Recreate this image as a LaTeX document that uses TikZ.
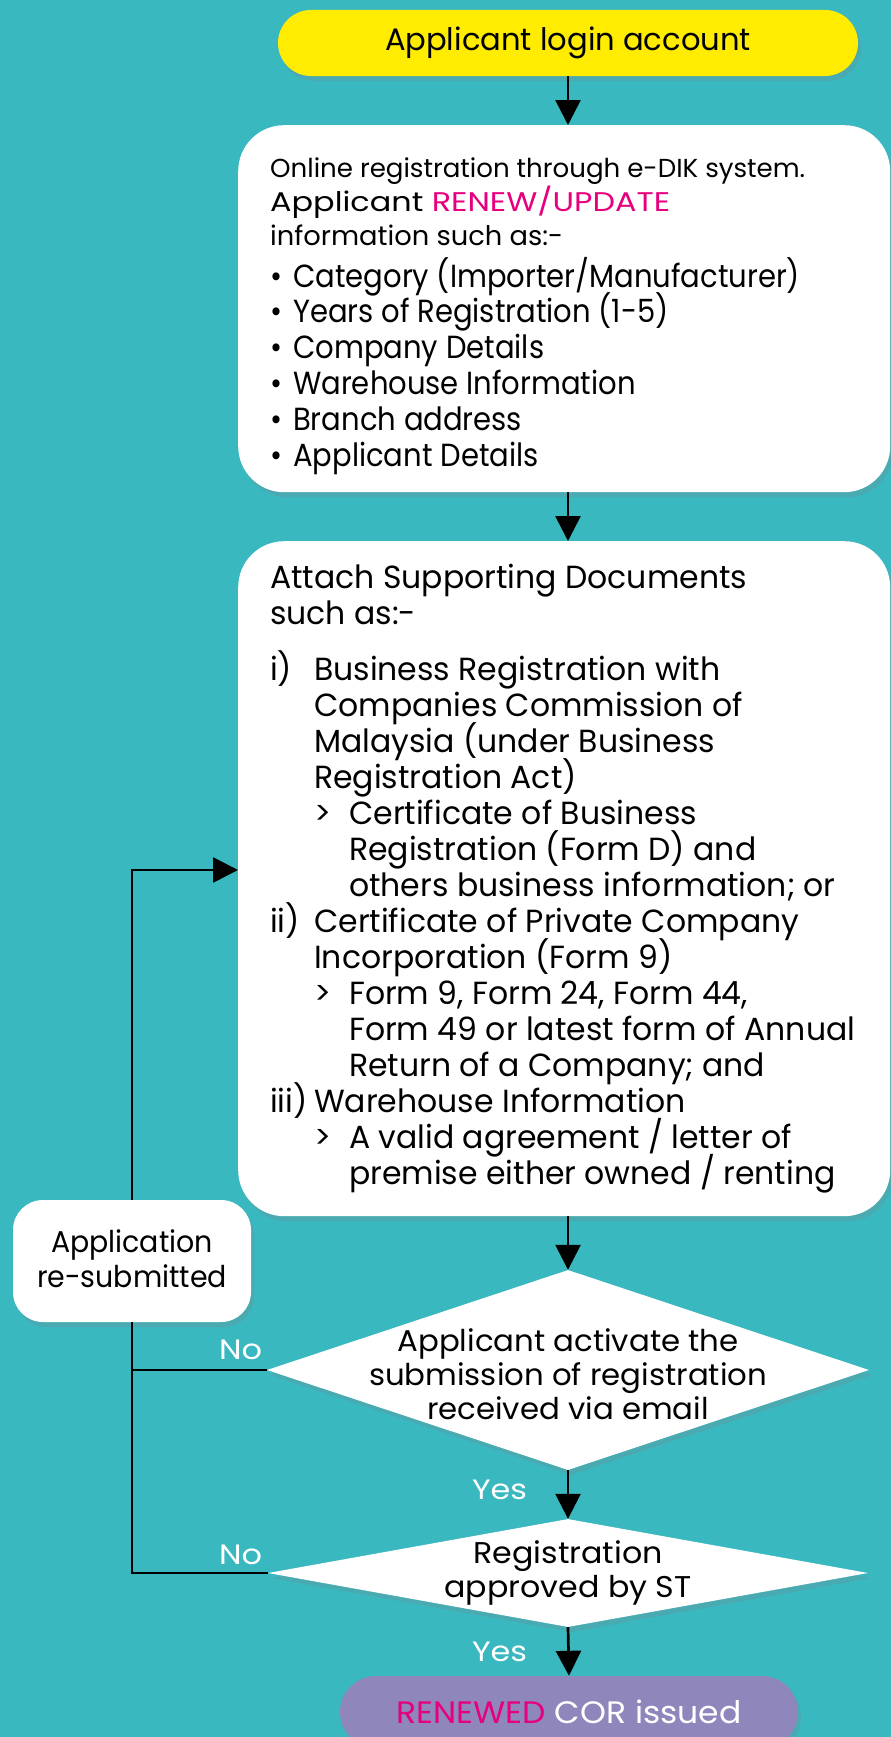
\documentclass[tikz,border=0pt]{standalone}
\usepackage{fontspec}
\setmainfont{Poppins}
\usetikzlibrary{arrows.meta,shapes.geometric,shadows}
\definecolor{bg}{HTML}{3AB8C0}
\definecolor{ylw}{HTML}{FFEC00}
\definecolor{mag}{HTML}{E6007E}
\definecolor{purp}{HTML}{8F86BC}
\newlength\fitlen
\newcommand\fitto[2]{\settowidth{\fitlen}{#2}\pgfmathsetmacro\fitr{#1/\fitlen}\scalebox{\fitr}[1]{#2}}
\newcommand\blockfactor[2]{\settowidth{\fitlen}{#2}\pgfmathsetmacro\bfac{#1/\fitlen}}
\newcommand\leftlines[1]{\vtop{\lineskiplimit=-100pt\lineskip=0pt\halign{##\hfil\cr#1\crcr}}}
\newcommand\midlines[1]{\vtop{\lineskiplimit=-100pt\lineskip=0pt\halign{\hfil##\hfil\cr#1\crcr}}}
\begin{document}
\begin{tikzpicture}[x=1pt,y=-1pt,
  shadowed/.style={drop shadow={shadow xshift=3pt,shadow yshift=-5pt,opacity=0.22}},
  wbox/.style={fill=white,rounded corners=46pt,draw=none,shadowed},
  ybox/.style={fill=ylw,rounded corners=33pt,draw=none,shadowed,inner sep=0pt},
  pbox/.style={fill=purp,rounded corners=36pt,draw=none,shadowed,inner sep=0pt},
  rbox/.style={fill=white,rounded corners=30pt,draw=none,shadowed,inner sep=0pt},
  dia/.style={diamond,fill=white,draw=none,inner sep=0pt,shadowed},
  txt/.style={inner sep=0pt,anchor=base west},
  ctxt/.style={inner sep=0pt,anchor=base,font=\fontsize{30}{34}\selectfont},
  lab/.style={inner sep=0pt,text=white,font=\fontsize{28}{32}\selectfont},
  arr/.style={line width=2.7pt,-{Triangle[width=25pt,length=25pt]}},
  conn/.style={line width=2.7pt}]
\useasboundingbox (0,0) rectangle (891,1737);
\fill[bg] (0,0) rectangle (891,1737);

\coordinate (entry) at (238,870);

% boxes
\node[rbox,minimum width=238,minimum height=122] (resub) at (132,1261) {};
\node[ybox,minimum width=580,minimum height=66] (login) at (568,43) {};
\node[wbox,minimum width=652,minimum height=367,anchor=north west] (online) at (238,125) {};
\node[wbox,minimum width=652,minimum height=675,anchor=north west] (docs) at (238,541) {};
\node[dia,minimum width=602,minimum height=200] (d1) at (568,1370) {};
\node[dia,minimum width=600,minimum height=108] (d2) at (568,1573) {};
\node[pbox,minimum width=458,minimum height=72] (cor) at (569,1712) {};

% texts
\node[inner sep=0pt,font=\fontsize{31}{36}\selectfont] (logintxt) at (568,43) {\fitto{366}{Applicant login account}};
\node[inner sep=0pt,font=\fontsize{31}{36}\selectfont] (cortxt) at (569,1712) {\fitto{345}{\textcolor{mag}{RENEWED} \textcolor{white}{COR issued}}};

\node[txt,font=\fontsize{26}{34}\selectfont] (onlinehead) at (270,177) {%
\leftlines{\fitto{535}{Online registration through e-DIK system.}\cr
\fontsize{27}{34}\selectfont\fitto{400}{Applicant \textcolor{mag}{RENEW/UPDATE}}\cr
\fontsize{27}{34}\selectfont\fitto{293}{information such as:-}}};

\node[txt,font=\fontsize{32}{35.8}\selectfont] (onlinelist) at (270,287) {%
\blockfactor{507}{Category (Importer/Manufacturer)}%
\pgfmathsetlengthmacro\bul{23/\bfac}%
\scalebox{\bfac}[1]{\leftlines{%
\makebox[\bul][l]{•}Category (Importer/Manufacturer)\cr
\makebox[\bul][l]{•}Years of Registration (1-5)\cr
\makebox[\bul][l]{•}Company Details\cr
\makebox[\bul][l]{•}Warehouse Information\cr
\makebox[\bul][l]{•}Branch address\cr
\makebox[\bul][l]{•}Applicant Details}}};

\node[txt,font=\fontsize{32}{36}\selectfont] (docstxt) at (270,588) {%
\blockfactor{506}{Form 49 or latest form of Annual}%
\pgfmathsetlengthmacro\indA{44/\bfac}%
\pgfmathsetlengthmacro\indB{35/\bfac}%
\scalebox{\bfac}[1]{\leftlines{%
Attach Supporting Documents\cr
such as:-\cr
\noalign{\vskip20pt}
\makebox[\indA][l]{i)}Business Registration with\cr
\hspace*{\indA}Companies Commission of\cr
\hspace*{\indA}Malaysia (under Business\cr
\hspace*{\indA}Registration Act)\cr
\hspace*{\indA}\makebox[\indB][l]{>}Certificate of Business\cr
\hspace*{\indA}\hspace*{\indB}Registration (Form D) and\cr
\hspace*{\indA}\hspace*{\indB}others business information; or\cr
\makebox[\indA][l]{ii)}Certificate of Private Company\cr
\hspace*{\indA}Incorporation (Form 9)\cr
\hspace*{\indA}\makebox[\indB][l]{>}Form 9, Form 24, Form 44,\cr
\hspace*{\indA}\hspace*{\indB}Form 49 or latest form of Annual\cr
\hspace*{\indA}\hspace*{\indB}Return of a Company; and\cr
\makebox[\indA][l]{iii)}Warehouse Information\cr
\hspace*{\indA}\makebox[\indB][l]{>}A valid agreement / letter of\cr
\hspace*{\indA}\hspace*{\indB}premise either owned / renting}}};

\node[ctxt] (d1txt) at (568,1351.5) {%
\blockfactor{398}{submission of registration}%
\scalebox{\bfac}[1]{\midlines{Applicant activate the\cr submission of registration\cr received via email}}};
\node[ctxt] (d2txt) at (568,1563.5) {%
\blockfactor{247}{approved by ST}%
\scalebox{\bfac}[1]{\midlines{Registration\cr approved by ST}}};
\node[ctxt,font=\fontsize{30}{35}\selectfont] (resubtxt) at (132,1252.5) {%
\blockfactor{190}{re-submitted}%
\scalebox{\bfac}[1]{\midlines{Application\cr re-submitted}}};

% labels
\node[lab] (no1) at (240.5,1350) {\fitto{43}{No}};
\node[lab] (no2) at (240.5,1555) {\fitto{43}{No}};
\node[lab] (yes1) at (499.5,1490) {\fitto{55}{Yes}};
\node[lab] (yes2) at (499.5,1652) {\fitto{55}{Yes}};

% connectors
\draw[arr] (login.south -| d1) -- (online.north -| d1);
\draw[arr] (online.south -| d1) -- (docs.north -| d1);
\draw[arr] (docs.south -| d1) -- (d1.north);
\draw[arr] (d1.south) -- (d2.north);
\draw[arr] (d2.south) -- (cor.north);
\draw[conn] (d1.west) -- (d1.west -| resub);
\draw[conn] (d2.west) -| (resub.south);
\draw[arr] (resub.north) |- (entry);
\end{tikzpicture}
\end{document}
